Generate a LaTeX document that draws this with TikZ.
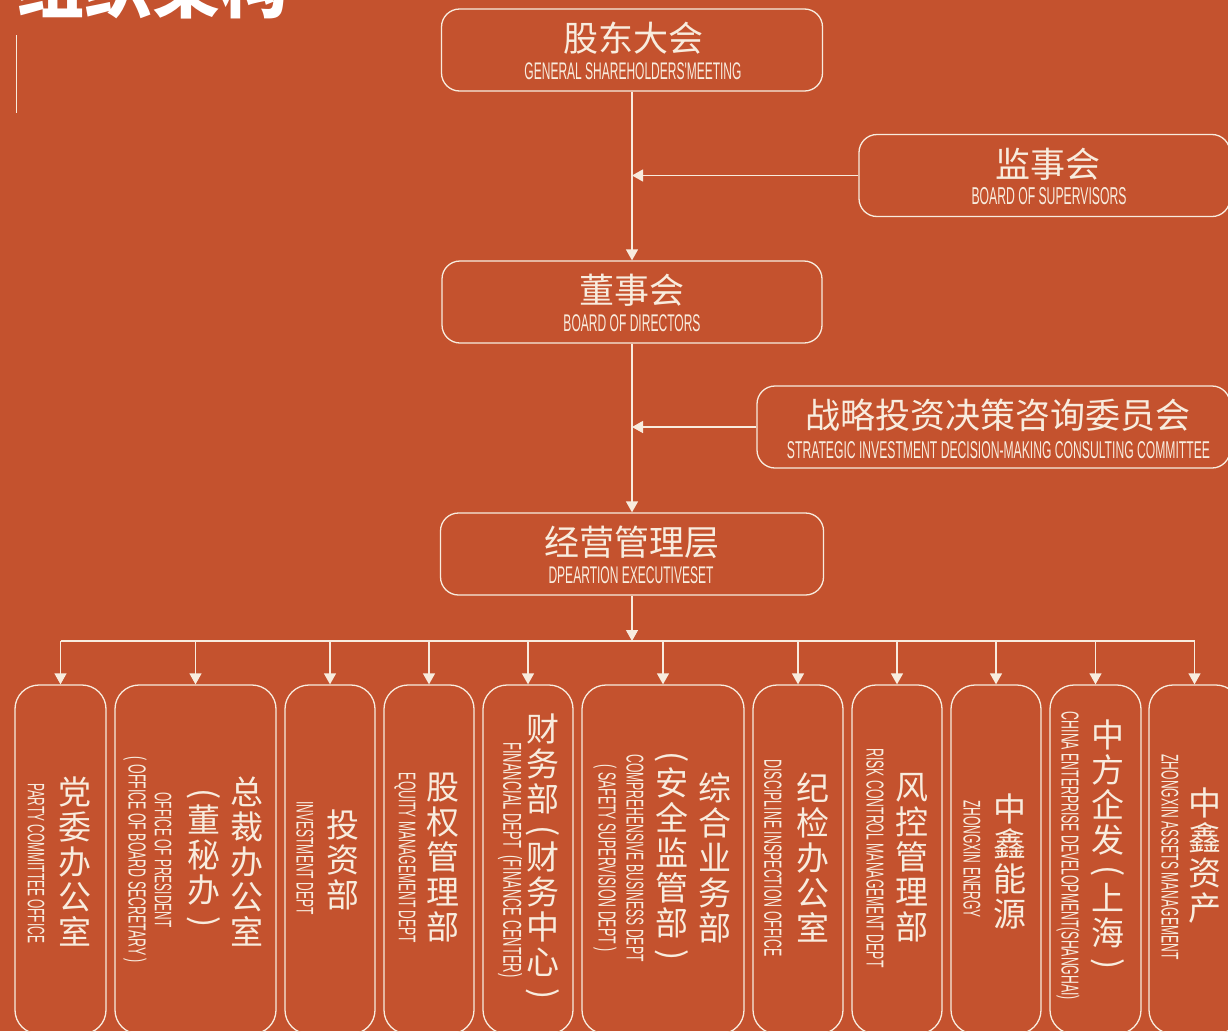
\documentclass[tikz,border=0pt]{standalone}
\usepackage{fontspec}
\usepackage{graphicx}
\setmainfont{Liberation Sans}
\newfontfamily\cjk{Noto Sans CJK SC}
\newfontfamily\enf[FakeStretch=0.5]{Liberation Sans}
\usetikzlibrary{arrows.meta}
\definecolor{bg}{RGB}{196,82,46}
\definecolor{ln}{RGB}{248,236,222}
\newcommand{\entxt}[2]{\resizebox{#1pt}{!}{\enf #2}}
\newcommand{\vpl}{\rotatebox[origin=c]{-90}{(}}
\newcommand{\vpr}{\rotatebox[origin=c]{-90}{)}}
\begin{document}
\begin{tikzpicture}[x=1pt,y=-1pt,
  topbox/.style={draw=ln, line width=1.3pt, rounded corners=18pt, minimum height=82pt, inner sep=0pt},
  botbox/.style={draw=ln, line width=1.3pt, rounded corners=24pt, minimum height=349pt, inner sep=0pt},
  cn/.style={text=ln, inner sep=0pt, font=\cjk\fontsize{35}{38}\selectfont},
  en/.style={text=ln, inner sep=0pt},
  vcn/.style={text=ln, inner sep=0pt, align=center, font=\cjk\fontsize{33}{35}\selectfont},
  conn/.style={draw=ln, line width=1.3pt, -{Triangle[length=11pt,width=12pt]}},
  plain/.style={draw=ln, line width=1.3pt}]
\useasboundingbox (0,0) rectangle (1228,1031);
\fill[bg] (0,0) rectangle (1228,1031);
\clip (0,0) rectangle (1228,1031);
% title (cut off at the top edge, as in the reference)
\node[anchor=base west, inner sep=0pt, text=white, font=\cjk\bfseries\fontsize{68}{70}\selectfont] (title) at (16,12) {组织架构};
\draw[ln, line width=1pt] (16,35) -- (16,113);
% top boxes
\node[topbox, minimum width=381pt] (gd) at (632,50) {};
\node[cn] (gdc) at (633,38) {股东大会};
\node[en] (gde) at (633,71) {\entxt{217}{GENERAL SHAREHOLDERS'MEETING}};
\node[topbox, minimum width=371pt] (sup) at (1044.5,175.5) {};
\node[cn] (supc) at (1048,164) {监事会};
\node[en] (supe) at (1049,196) {\entxt{155}{BOARD OF SUPERVISORS}};
\node[topbox, minimum width=380pt] (bd) at (632,302) {};
\node[cn] (bdc) at (632,290) {董事会};
\node[en] (bde) at (632,323) {\entxt{137}{BOARD OF DIRECTORS}};
\node[topbox, minimum width=473pt] (sic) at (993.5,427) {};
\node[cn] (sicc) at (997.5,415) {战略投资决策咨询委员会};
\node[en] (sice) at (998.5,450) {\entxt{423}{STRATEGIC INVESTMENT DECISION-MAKING CONSULTING COMMITTEE}};
\node[topbox, minimum width=383pt] (op) at (632,554) {};
\node[cn] (opc) at (632,542) {经营管理层};
\node[en] (ope) at (631,575) {\entxt{165}{DPEARTION EXECUTIVESET}};
% bottom boxes
\node[botbox, minimum width=91pt] (b1) at (60.5,859.5) {};
\node[botbox, minimum width=161pt] (b2) at (195.5,859.5) {};
\node[botbox, minimum width=90pt] (b3) at (330,859.5) {};
\node[botbox, minimum width=90pt] (b4) at (429,859.5) {};
\node[botbox, minimum width=90pt] (b5) at (528,859.5) {};
\node[botbox, minimum width=162pt] (b6) at (663,859.5) {};
\node[botbox, minimum width=90pt] (b7) at (798,859.5) {};
\node[botbox, minimum width=90pt] (b8) at (897,859.5) {};
\node[botbox, minimum width=90pt] (b9) at (996,859.5) {};
\node[botbox, minimum width=91pt] (b10) at (1095.5,859.5) {};
\node[botbox, minimum width=91pt] (b11) at (1194.5,859.5) {};
% bottom texts
\node[vcn] (c1) at (75,861) {党\\委\\办\\公\\室};
\node[en, rotate=-90] (e1) at (36,863) {\entxt{160}{PARTY COMMITTEE OFFICE}};
\node[vcn] (c2a) at (247,861) {总\\裁\\办\\公\\室};
\node[vcn] (c2b) at (204,860) {\vpl\\[-6pt]董\\秘\\办\\[-6pt]\vpr};
\node[en, rotate=-90] (e2a) at (163,860) {\entxt{135}{OFFICE OF PRESIDENT}};
\node[en, rotate=-90] (e2b) at (135,860) {\entxt{206}{( OFFICE OF BOARD SECRETARY )}};
\node[vcn] (c3) at (343,860) {投\\资\\部};
\node[en, rotate=-90] (e3) at (305,858) {\entxt{113}{INVESTMENT DEPT}};
\node[vcn] (c4) at (443,858) {股\\权\\管\\理\\部};
\node[en, rotate=-90] (e4) at (405,858) {\entxt{170}{EQUITY MANAGEMENT DEPT}};
\node[vcn] (c5) at (543,859) {财\\务\\部\\[-6pt]\vpl\\[-6pt]财\\务\\中\\心\\[-6pt]\vpr};
\node[en, rotate=-90] (e5) at (510,860) {\entxt{235}{FINANCIAL DEPT \ (FINANCE CENTER)}};
\node[vcn] (c6a) at (715,858) {综\\合\\业\\务\\部};
\node[vcn] (c6b) at (672,858) {\vpl\\[-6pt]安\\全\\监\\管\\部\\[-6pt]\vpr};
\node[en, rotate=-90] (e6a) at (635,858) {\entxt{207}{COMPREHENSIVE BUSINESS DEPT}};
\node[en, rotate=-90] (e6b) at (605,858) {\entxt{187}{( SAFETY SUPERVISION DEPT )}};
\node[vcn] (c7) at (813,858) {纪\\检\\办\\公\\室};
\node[en, rotate=-90] (e7) at (773,858) {\entxt{197}{DISCIPLINE INSPECTION OFFICE}};
\node[vcn] (c8) at (912,858) {风\\控\\管\\理\\部};
\node[en, rotate=-90] (e8) at (875,858) {\entxt{219}{RISK CONTROL MANAGEMENT DEPT}};
\node[vcn] (c9) at (1010,861) {中\\鑫\\能\\源};
\node[en, rotate=-90] (e9) at (972,859) {\entxt{118}{ZHONGXIN ENERGY}};
\node[vcn] (c10) at (1108,847) {中\\方\\企\\发\\[-6pt]\vpl\\[-6pt]上\\海\\[-6pt]\vpr};
\node[en, rotate=-90] (e10) at (1068,856) {\entxt{288}{CHINA ENTERPRISE DEVELOPMENT(SHANGHAI)}};
\node[vcn] (c11) at (1205,856) {中\\鑫\\资\\产};
\node[en, rotate=-90] (e11) at (1170,857) {\entxt{205}{ZHONGXIN ASSETS MANAGEMENT}};
% connectors
\draw[conn] (gd.south) -- (bd.north);
\draw[conn] (bd.south) -- (op.north);
\draw[conn] (sup.west) -- (sup.west -| gd.south);
\draw[conn] (sic.west) -- (sic.west -| gd.south);
\coordinate (hub) at (632,641);
\draw[conn] (op.south) -- (hub);
\draw[plain] (b1.north |- hub) -- (b11.north |- hub);
\foreach \i in {1,...,11} {\draw[conn] (b\i.north |- hub) -- (b\i.north);}
\end{tikzpicture}
\end{document}
